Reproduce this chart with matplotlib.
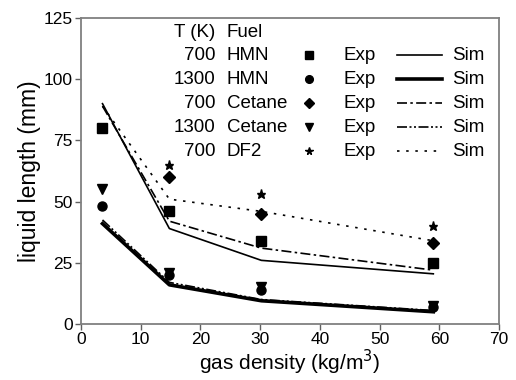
import matplotlib
matplotlib.use("Agg")
import matplotlib.pyplot as plt

plt.rcParams['font.family'] = ['Liberation Sans', 'DejaVu Sans']

# gas density (kg/m^3)
density = [3.6, 14.8, 30.2, 59.0]

# experimental liquid length (mm)
exp_hmn_700 = [80, 46, 34, 25]
exp_hmn_1300 = [48, 20, 14, 7]
exp_cet_700_x = [14.8, 30.2, 59.0]
exp_cet_700 = [60, 45, 33]
exp_cet_1300 = [55, 21, 15, 7.5]
exp_df2_x = [14.8, 30.2, 59.0]
exp_df2 = [65, 53, 40]

# simulated liquid length (mm)
sim_hmn_700 = [90, 39, 26, 20.5]
sim_hmn_1300 = [41, 16, 9.5, 5]
sim_cet_700 = [89, 42, 31, 22]
sim_cet_1300 = [42.5, 17, 10, 5.5]
sim_df2 = [89, 51, 46, 34]

temps = ['700', '1300', '700', '1300', '700']
fuels = ['HMN', 'HMN', 'Cetane', 'Cetane', 'DF2']

fig = plt.figure(figsize=(5.16, 3.8), dpi=100)
ax = fig.add_axes([81/516, 56/380, 418/516, 306/380])

styles = [
    dict(marker='s', ms=6.5, lw=1.2, dashes=None),
    dict(marker='o', ms=6.5, lw=2.6, dashes=None),
    dict(marker='D', ms=6, lw=1.2, dashes=(6, 2, 1.5, 2)),
    dict(marker='v', ms=7, lw=1.2, dashes=(6, 1.5, 1.2, 1.5, 1.2, 1.5)),
    dict(marker='*', ms=6.5, lw=1.2, dashes=(1.5, 4)),
]

exp_x = [density, density, exp_cet_700_x, density, exp_df2_x]
exp_y = [exp_hmn_700, exp_hmn_1300, exp_cet_700, exp_cet_1300, exp_df2]
sims = [sim_hmn_700, sim_hmn_1300, sim_cet_700, sim_cet_1300, sim_df2]

for ex, ey, sy, st in zip(exp_x, exp_y, sims, styles):
    line, = ax.plot(density, sy, color='black', lw=st['lw'])
    if st['dashes'] is not None:
        line.set_dashes(st['dashes'])
    ax.plot(ex, ey, ls='none', marker=st['marker'], ms=st['ms'], color='black')

# legend table drawn in axes fraction
tr = ax.transAxes
fs = 13.5
ax.text(0.321, 0.954, 'T (K)', transform=tr, ha='right', va='center', fontsize=fs)
ax.text(0.349, 0.954, 'Fuel', transform=tr, ha='left', va='center', fontsize=fs)
row_y = [0.879, 0.800, 0.722, 0.643, 0.564]
for yy, t, f, st in zip(row_y, temps, fuels, styles):
    ax.text(0.321, yy, t, transform=tr, ha='right', va='center', fontsize=fs)
    ax.text(0.349, yy, f, transform=tr, ha='left', va='center', fontsize=fs)
    ax.plot([0.545], [yy], transform=tr, ls='none', marker=st['marker'],
            ms=st['ms'] * 0.85, color='black')
    ax.text(0.627, yy, 'Exp', transform=tr, ha='left', va='center', fontsize=fs)
    ln, = ax.plot([0.756, 0.864], [yy, yy], transform=tr, color='black', lw=st['lw'])
    if st['dashes'] is not None:
        ln.set_dashes(st['dashes'])
    ax.text(0.888, yy, 'Sim', transform=tr, ha='left', va='center', fontsize=fs)

ax.set_xlim(0, 70)
ax.set_ylim(0, 125)
ax.set_xticks(range(0, 71, 10))
ax.set_yticks(range(0, 126, 25))
ax.set_xlabel('gas density (kg/m$^3$)', fontsize=15, labelpad=0)
ax.set_ylabel('liquid length (mm)', fontsize=16.5, labelpad=2)
ax.tick_params(direction='out', length=4, width=1, colors='#606060',
               labelcolor='black', labelsize=12.5, pad=2)
for sp in ax.spines.values():
    sp.set_color('#808080')
    sp.set_linewidth(1.3)

fig.savefig('out.png', dpi=100)
